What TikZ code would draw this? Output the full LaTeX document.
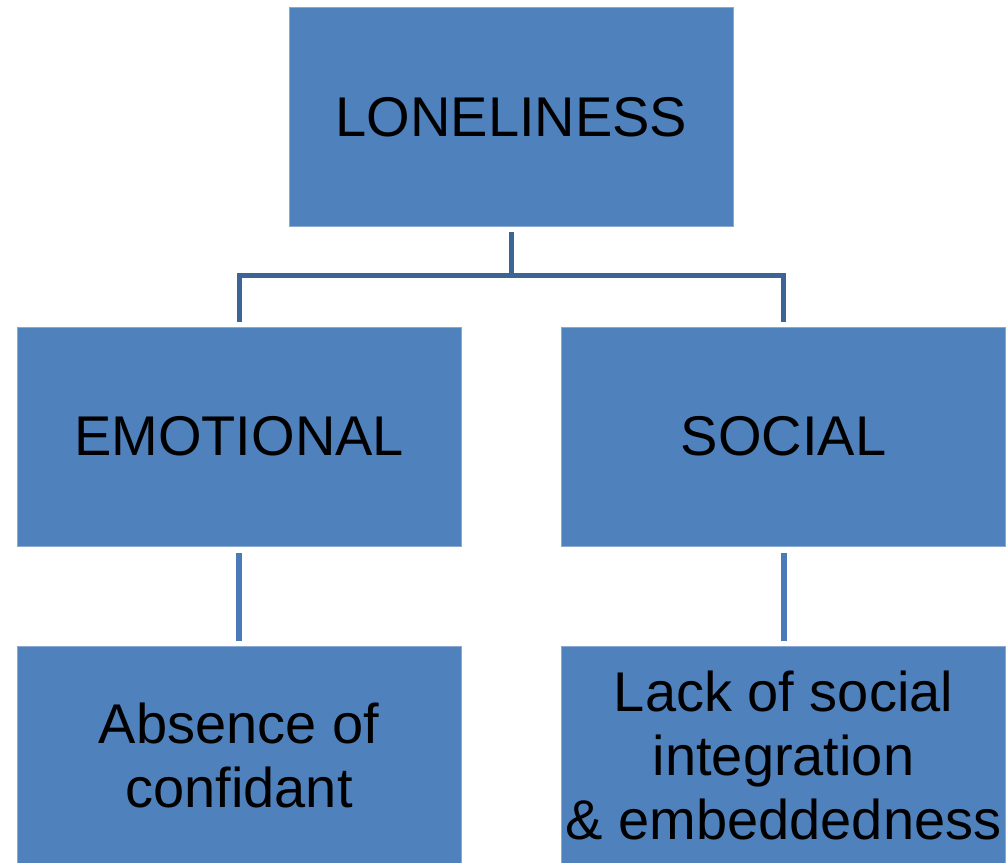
\documentclass[tikz,border=0pt]{standalone}
\usepackage{fontspec}
\setmainfont{Liberation Sans}
\definecolor{boxfill}{HTML}{4F81BD}
\definecolor{boxline}{HTML}{8AA8D4}
\definecolor{topconn}{HTML}{3D6496}
\definecolor{lowconn}{HTML}{4A7AB8}
\tikzset{
  box/.style={rectangle, fill=boxfill, draw=boxline, line width=1pt,
    minimum width=444pt, minimum height=219pt, inner sep=0pt, align=center,
    text=black, font=\fontsize{56}{64}\selectfont},
  conntop/.style={draw=topconn, line width=5pt},
  connlow/.style={draw=lowconn, line width=6pt}
}
\begin{document}
\begin{tikzpicture}[x=1pt,y=-1pt]
\clip (0,0) rectangle (1006,862);
\fill[white] (0,0) rectangle (1006,862);
\node[box] (top) at (511.5,117) {LONELINESS};
\node[box] (emo) at (239,436.5) {EMOTIONAL};
\node[box] (soc) at (783.5,436.5) {SOCIAL};
\node[box] (abs) at (239,755.5) {Absence of\\confidant};
\node[box] (lack) at (783.5,755.5) {Lack of social\\integration\\\& embeddedness};
\coordinate (hub) at ([yshift=-48pt]top.south);
\draw[conntop] ([yshift=-5pt]top.south) -- (hub);
\draw[conntop] (hub) -| ([yshift=5pt]emo.north);
\draw[conntop] (hub) -| ([yshift=5pt]soc.north);
\draw[connlow] ([yshift=-6pt]emo.south) -- ([yshift=5pt]abs.north);
\draw[connlow] ([yshift=-6pt]soc.south) -- ([yshift=5pt]lack.north);
\end{tikzpicture}
\end{document}
